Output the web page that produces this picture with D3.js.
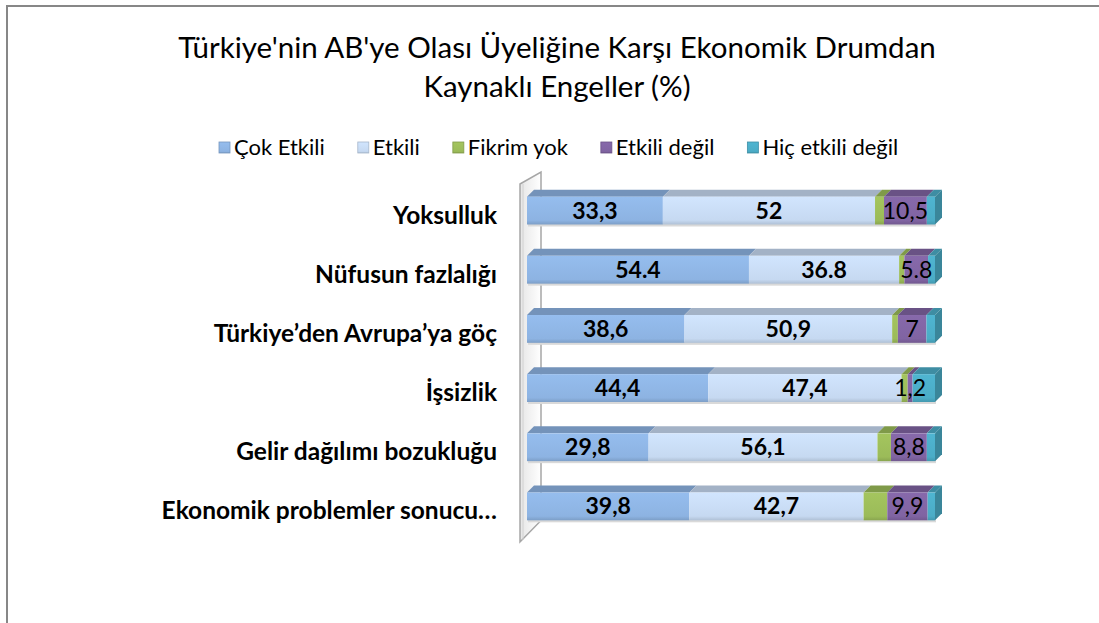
<!DOCTYPE html>
<html>
<head>
<meta charset="utf-8">
<script src="https://cdn.jsdelivr.net/npm/d3@7"></script>
<style>
  body { margin: 0; background: #fff; }
  text { font-family: Lato, "Open Sans", sans-serif; }
</style>
</head>
<body>
<div class="canvas"></div>
<script>
// data
const categories = [
  "Yoksulluk",
  "Nüfusun fazlalığı",
  "Türkiye’den Avrupa’ya göç",
  "İşsizlik",
  "Gelir dağılımı bozukluğu",
  "Ekonomik problemler sonucu…",
];
const seriesNames = ["Çok Etkili", "Etkili", "Fikrim yok", "Etkili değil", "Hiç etkili değil"];
const cokEtkili = [33.3, 54.4, 38.6, 44.4, 29.8, 39.8];
const etkili = [52, 36.8, 50.9, 47.4, 56.1, 42.7];
const fikrimYok = [2.2, 1.3, 1.4, 1.5, 3.3, 5.8];
const etkiliDegil = [10.5, 5.8, 7, 1.2, 8.8, 9.9];
const hicEtkili = [2.0, 1.7, 2.1, 5.5, 2.0, 1.8];
const decimalMark = [",", ".", ",", ",", ",", ","]; // row 2 was typed with dots
const labelledSeries = [0, 1, 3]; // only these series show their values
const colors = ["#8db3e2", "#c6d9f1", "#9bbb59", "#8064a2", "#4bacc6"];

// margins and dimensions
const w = 1099;
const h = 623;
const depth = { dx: 7, dy: 7 }; // 3d offset of the bar tops
const wallDepth = { dx: 21, dy: 12 };

const svg = d3.select(".canvas").append("svg").attr("width", w).attr("height", h);

// chart border
svg
  .append("rect")
  .attr("x", 7)
  .attr("y", 6)
  .attr("width", w + 10)
  .attr("height", h + 10)
  .attr("fill", "#fff")
  .attr("stroke", "#878787")
  .attr("stroke-width", 2);

// title
const title = svg
  .append("text")
  .attr("text-anchor", "middle")
  .attr("font-size", 29.5)
  .attr("fill", "#000");
title.append("tspan").attr("x", 557).attr("y", 58).text("Türkiye'nin AB'ye Olası Üyeliğine Karşı Ekonomik Drumdan");
title.append("tspan").attr("x", 557).attr("y", 97).text("Kaynaklı Engeller (%)");

// stack the series
const rows = categories.map((c, i) => ({
  category: c,
  values: [cokEtkili[i], etkili[i], fikrimYok[i], etkiliDegil[i], hicEtkili[i]],
  mark: decimalMark[i],
}));
const stacked = rows.map((r) => {
  let acc = 0;
  return r.values.map((v, s) => {
    const seg = { category: r.category, series: s, value: v, x0: acc, x1: acc + v, mark: r.mark };
    acc += v;
    return seg;
  });
});

// scales
const x = d3.scaleLinear().domain([0, 100]).range([527, 935]);
const y = d3.scaleBand().domain(categories).range([181, 536]).paddingInner(0.53).paddingOuter(0.265);

// gradients for the bar fronts
const defs = svg.append("defs");
colors.forEach((c, i) => {
  const g = defs.append("linearGradient").attr("id", "grad" + i).attr("x1", 0).attr("y1", 0).attr("x2", 0).attr("y2", 1);
  g.append("stop").attr("offset", "0%").attr("stop-color", d3.color(c).brighter(0.15));
  g.append("stop").attr("offset", "85%").attr("stop-color", c);
  g.append("stop").attr("offset", "100%").attr("stop-color", d3.color(c).darker(0.35));
});
const wallGrad = defs.append("linearGradient").attr("id", "wallGrad").attr("x1", 0).attr("y1", 0).attr("x2", 1).attr("y2", 0);
wallGrad.append("stop").attr("offset", "0%").attr("stop-color", "#e6e6e6");
wallGrad.append("stop").attr("offset", "100%").attr("stop-color", "#ffffff");

// back wall (3d panel on the left)
const wx = x(0) - 7;
const wTop = y.range()[0] + 3;
const wBottom = y.range()[1] + 6;
svg
  .append("path")
  .attr("d", `M${wx},${wTop} L${wx + wallDepth.dx},${wTop - wallDepth.dy} L${wx + wallDepth.dx},${wBottom - wallDepth.dy * 1.8} L${wx},${wBottom} Z`)
  .attr("fill", "url(#wallGrad)")
  .attr("stroke", "#a6a6a6")
  .attr("stroke-width", 1.5);
svg
  .append("line")
  .attr("x1", wx + 3)
  .attr("x2", wx + 3)
  .attr("y1", wTop)
  .attr("y2", wBottom - 2)
  .attr("stroke", "#d0d0d0")
  .attr("stroke-width", 1);

// legend
const legend = svg.append("g").attr("transform", "translate(0, 148)");
let lx = 219;
seriesNames.forEach((name, i) => {
  legend
    .append("rect")
    .attr("x", lx)
    .attr("y", -6)
    .attr("width", 11)
    .attr("height", 11)
    .attr("fill", `url(#grad${i})`)
    .attr("stroke", d3.color(colors[i]).darker(0.5))
    .attr("stroke-width", 0.8);
  const t = legend
    .append("text")
    .attr("x", lx + 15)
    .attr("y", 7)
    .attr("font-size", 22)
    .attr("fill", "#000")
    .text(name);
  lx += 15 + t.node().getComputedTextLength() + 33;
});

// bars
const bar = svg
  .selectAll("g.bar")
  .data(stacked)
  .enter()
  .append("g")
  .attr("class", "bar");

// shadow under each bar
bar
  .append("rect")
  .attr("x", x(0) + 1)
  .attr("y", (d) => y(d[0].category) + y.bandwidth() - 1)
  .attr("width", x(100) - x(0))
  .attr("height", 3)
  .attr("fill", "#d9d9d9");

const seg = bar
  .selectAll("g.seg")
  .data((d) => d)
  .enter()
  .append("g")
  .attr("class", "seg");

// top faces
seg
  .append("path")
  .attr("d", (d) => {
    const yt = y(d.category);
    return `M${x(d.x0)},${yt} L${x(d.x0) + depth.dx},${yt - depth.dy} L${x(d.x1) + depth.dx},${yt - depth.dy} L${x(d.x1)},${yt} Z`;
  })
  .attr("fill", (d) => d3.color(colors[d.series]).darker(0.55));

// front faces
seg
  .append("rect")
  .attr("x", (d) => x(d.x0))
  .attr("y", (d) => y(d.category))
  .attr("width", (d) => x(d.x1) - x(d.x0))
  .attr("height", y.bandwidth())
  .attr("fill", (d) => `url(#grad${d.series})`);

// right side face of the last segment
bar
  .append("path")
  .attr("d", (d) => {
    const yt = y(d[0].category);
    const xr = x(d[d.length - 1].x1);
    return `M${xr},${yt} L${xr + depth.dx},${yt - depth.dy} L${xr + depth.dx},${yt - depth.dy + y.bandwidth()} L${xr},${yt + y.bandwidth()} Z`;
  })
  .attr("fill", d3.color(colors[4]).darker(0.7));

// value labels (on top of all bars)
const fmt = (v, mark) => String(v).replace(".", mark);
svg
  .append("g")
  .selectAll("text")
  .data(stacked.flat().filter((d) => labelledSeries.includes(d.series)))
  .enter()
  .append("text")
  .attr("x", (d) => (x(d.x0) + x(d.x1)) / 2)
  .attr("y", (d) => y(d.category) + y.bandwidth() / 2 + 8)
  .attr("text-anchor", "middle")
  .attr("font-size", 23)
  .attr("font-weight", (d) => (d.series === 3 ? "normal" : "bold"))
  .attr("fill", "#000")
  .text((d) => fmt(d.value, d.mark));

// category labels
svg
  .selectAll("text.cat")
  .data(categories)
  .enter()
  .append("text")
  .attr("class", "cat")
  .attr("x", 497)
  .attr("y", (d) => y(d) + y.bandwidth() / 2 + 13)
  .attr("text-anchor", "end")
  .attr("font-size", 24.5)
  .attr("font-weight", "bold")
  .attr("fill", "#000")
  .text((d) => d);
</script>
</body>
</html>
